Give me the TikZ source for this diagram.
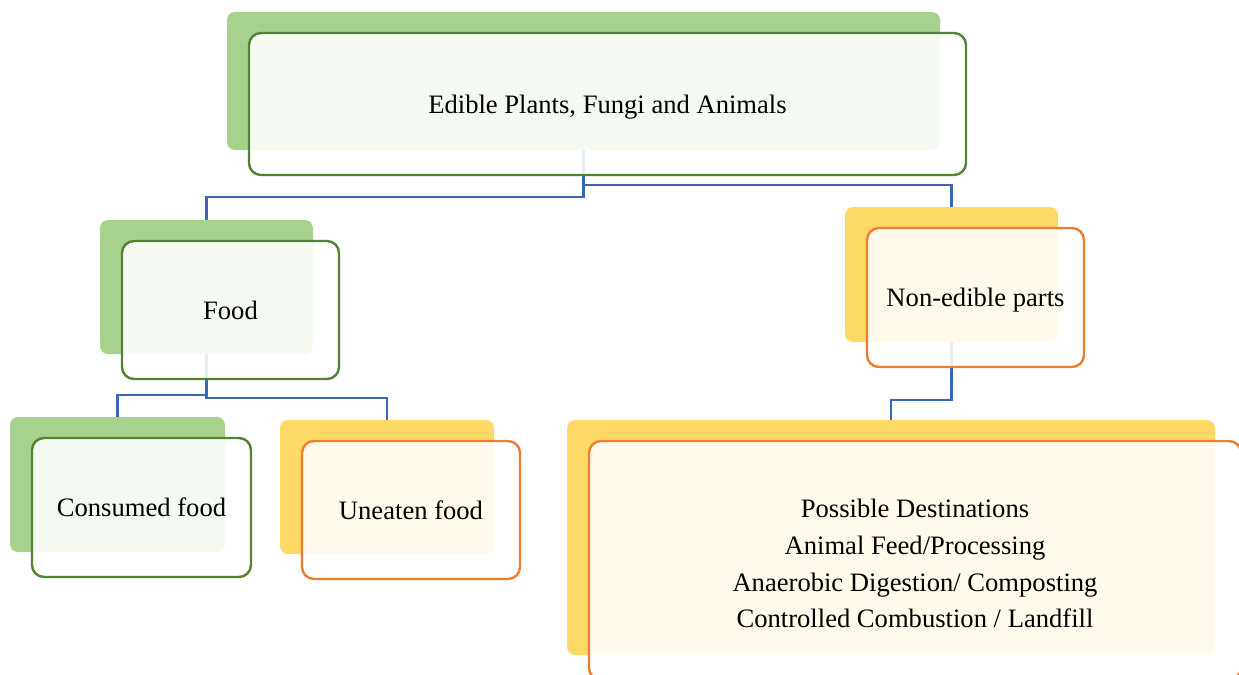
\documentclass[tikz,border=0pt]{standalone}
\usepackage{fontspec}
\setmainfont{Liberation Serif}
\usepackage{tikz}
\usetikzlibrary{shapes,positioning}
\definecolor{leafgreen}{HTML}{A9D18E}
\definecolor{mossgreen}{HTML}{548235}
\definecolor{sungold}{HTML}{FFD966}
\definecolor{burnt}{HTML}{ED7D31}
\definecolor{linkblue}{HTML}{3A66B5}
\tikzstyle{backing} = [rectangle,rounded corners=4pt,inner sep=0,outer sep=0]
\tikzstyle{card} = [draw,rectangle,rounded corners=6pt,line width=1.2pt,fill=white,fill opacity=0.88,text opacity=1,inner sep=0,outer sep=0,align=center]
\tikzstyle{link} = [-,draw=linkblue,line width=1.2pt]
\def \off {(24,23)}
\newcommand\lowered[2]{\raisebox{-#1}[\height][\depth]{#2}}

\begin{document}
\begin{tikzpicture}[x=0.5pt,y=-0.5pt,font=\fontsize{13.3pt}{18.3pt}\selectfont]
  \useasboundingbox (0,0) rectangle (1239,675);
  \clip (0,0) rectangle (1239,675);
  % back layers
  \node[backing,fill=leafgreen,minimum width=356.5pt,minimum height=69pt] (top-bk) at (583.5,81) {};
  \node[backing,fill=leafgreen,minimum width=106.5pt,minimum height=67pt] (food-bk) at (206.5,287) {};
  \node[backing,fill=leafgreen,minimum width=107.5pt,minimum height=67.5pt] (cons-bk) at (117.5,484.5) {};
  \node[backing,fill=sungold,minimum width=107pt,minimum height=67pt] (unea-bk) at (387,487) {};
  \node[backing,fill=sungold,minimum width=106.5pt,minimum height=67.5pt] (nonr-bk) at (951.5,274.5) {};
  \node[backing,fill=sungold,minimum width=324pt,minimum height=117.5pt] (dest-bk) at (891,537.5) {};
  % connectors
  \draw[link] (top-bk.south) -- ++(0,47) -| (food-bk.north);
  \draw[link] (top-bk.south) -- ++(0,35) -| (nonr-bk.north);
  \draw[link] (food-bk.south) -- ++(0,41) -| (cons-bk.north);
  \draw[link] (food-bk.south) -- ++(0,44) -| (unea-bk.north);
  \draw[link] (nonr-bk.south) -- ++(0,58) -| (dest-bk.north);
  % front cards
  \node[card,draw=mossgreen,minimum width=358.5pt,minimum height=71pt] (top) at ([shift={\off}]top-bk) {\lowered{1.5pt}{Edible Plants, Fungi and Animals}};
  \node[card,draw=mossgreen,minimum width=108.5pt,minimum height=69pt] (food) at ([shift={\off}]food-bk) {Food};
  \node[card,draw=mossgreen,minimum width=109.5pt,minimum height=69.5pt] (cons) at ([shift={\off}]cons-bk) {Consumed food};
  \node[card,draw=burnt,minimum width=109pt,minimum height=69pt] (unea) at ([shift={\off}]unea-bk) {Uneaten food};
  \node[card,draw=burnt,minimum width=108.5pt,minimum height=69.5pt] (nonr) at ([shift={\off}]nonr-bk) {\lowered{1.5pt}{Non-edible parts}};
  \node[card,draw=burnt,minimum width=326pt,minimum height=119.5pt] (dest) at ([shift={\off}]dest-bk) {\lowered{2.5pt}{\begin{tabular}{@{}c@{}}Possible Destinations\\Animal Feed/Processing\\Anaerobic Digestion/ Composting\\Controlled Combustion / Landfill\end{tabular}}};
\end{tikzpicture}
\end{document}
